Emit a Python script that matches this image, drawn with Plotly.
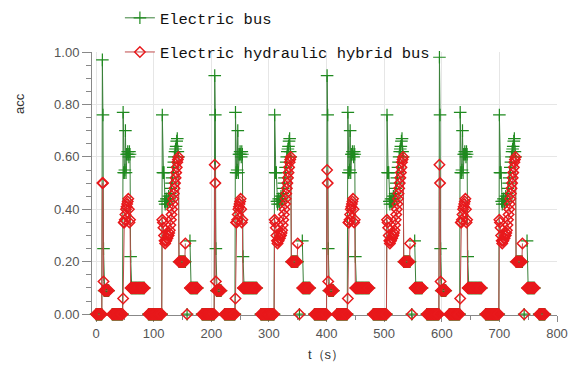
import plotly.graph_objects as go

# ---------------- data ----------------
# The test consists of 4 repetitions of the same 195 s urban cycle.
cycle_starts = [0, 195, 390, 585]
cycle_length = 195

# launch spike at t = 11 s of every cycle (values differ per cycle)
launch_peak_electric = [0.97, 0.91, 0.91, 0.98]
launch_peak_hybrid = [0.50, 0.57, 0.55, 0.57]

# steady (held) segments inside a cycle: start s, end s, value
plateau_start = [0, 14, 28, 62, 91, 145, 164, 184]
plateau_end = [10, 22, 46, 84, 114, 154, 176, 194]
plateau_electric = [0.00, 0.09, 0.00, 0.10, 0.00, 0.20, 0.10, 0.00]
plateau_hybrid = [0.00, 0.09, 0.00, 0.10, 0.00, 0.20, 0.10, 0.00]

# transient samples inside a cycle (time within cycle, s)
transient_t = [12, 13,
               47, 48, 49, 50, 51, 52, 53, 54, 55, 56, 57, 58, 59, 60, 61,
               115, 116, 117, 118, 119, 120, 121, 122, 123, 124, 125, 126, 127, 128, 129,
               130, 131, 132, 133, 134, 135, 136, 137, 138, 139, 140, 141, 142, 143, 144,
               155, 158, 163]
transient_electric = [0.76, 0.25,
                      0.77, 0.54, 0.54, 0.55, 0.70, 0.54, 0.61, 0.61, 0.62, 0.61, 0.60, 0.62, 0.61, 0.22, 0.10,
                      0.76, 0.54, 0.54, 0.54, 0.43, 0.42, 0.43, 0.44, 0.43, 0.42, 0.44, 0.45, 0.43, 0.44, 0.46,
                      0.48, 0.50, 0.52, 0.54, 0.56, 0.58, 0.60, 0.62, 0.63, 0.64, 0.66, 0.67, 0.62, 0.60, 0.20,
                      0.20, 0.00, 0.28]
transient_hybrid = [0.50, 0.125,
                    0.06, 0.35, 0.35, 0.36, 0.38, 0.40, 0.41, 0.42, 0.43, 0.44, 0.40, 0.35, 0.36, 0.10, 0.10,
                    0.36, 0.35, 0.33, 0.30, 0.28, 0.27, 0.28, 0.28, 0.29, 0.29, 0.30, 0.30, 0.31, 0.32, 0.34,
                    0.36, 0.38, 0.40, 0.42, 0.44, 0.46, 0.48, 0.50, 0.52, 0.54, 0.56, 0.58, 0.59, 0.60, 0.20,
                    0.27, 0.00, 0.10]
launch_t = 11

x_ticks = [0, 100, 200, 300, 400, 500, 600, 700, 800]
y_ticks = [0.0, 0.2, 0.4, 0.6, 0.8, 1.0]

# ---------------- assemble the sampled series ----------------
def build(plateau_vals, trans_vals, peaks):
    ts, vs = [], []
    for c, start in enumerate(cycle_starts):
        samples = {}
        for s, e, v in zip(plateau_start, plateau_end, plateau_vals):
            for k in range(s, e + 1):
                samples[k] = v
        for k, v in zip(transient_t, trans_vals):
            samples[k] = v
        samples[launch_t] = peaks[c]
        for k in range(cycle_length):
            ts.append(start + k)
            vs.append(samples.get(k))
    return ts, vs

t_e, y_e = build(plateau_electric, transient_electric, launch_peak_electric)
t_h, y_h = build(plateau_hybrid, transient_hybrid, launch_peak_hybrid)

# ---------------- figure ----------------
fig = go.Figure()
fig.add_trace(go.Scatter(
    x=t_e, y=y_e, name="Electric bus", mode="lines+markers",
    line=dict(color="#3a803a", width=1),
    marker=dict(symbol="cross-thin-open", size=9, color="#1f8a1f", line=dict(width=1.2)),
    connectgaps=False, cliponaxis=False, legendgroup="a"))
fig.add_trace(go.Scatter(
    x=t_h, y=y_h, name="Electric hydraulic hybrid bus", mode="lines+markers",
    line=dict(color="#bf4a4a", width=1),
    marker=dict(symbol="diamond-open", size=8, color="#e8191c", line=dict(width=1.5)),
    connectgaps=False, cliponaxis=False, legendgroup="b"))

axis_font = dict(family="Liberation Sans, Arial, sans-serif", size=13, color="#555")
fig.update_xaxes(
    range=[-7, 800], tickvals=x_ticks, ticktext=[str(v) for v in x_ticks],
    showgrid=True, gridcolor="#e6e6e6", gridwidth=1, zeroline=False,
    showline=True, linecolor="#888", linewidth=1, layer="below traces",
    ticks="outside", ticklen=6, tickcolor="#888", tickfont=axis_font,
    minor=dict(dtick=50, ticks="outside", ticklen=4, tickcolor="#888", showgrid=False))
fig.update_yaxes(
    range=[-0.003, 1.0], tickvals=y_ticks, ticktext=[f"{v:.2f}" for v in y_ticks],
    showgrid=True, gridcolor="#e6e6e6", gridwidth=1, zeroline=False,
    showline=True, linecolor="#888", linewidth=1, layer="below traces",
    ticks="outside", ticklen=9, tickcolor="#888", tickfont=axis_font,
    minor=dict(dtick=0.05, ticks="outside", ticklen=5, tickcolor="#888", showgrid=False))

# the page body adds an 8 px offset, so the figure is 8 px narrower/shorter
fig.update_layout(
    width=573, height=360,
    margin=dict(l=84, r=24, t=44, b=53, autoexpand=False),
    paper_bgcolor="white", plot_bgcolor="white",
    showlegend=True,
    legend=dict(x=0.06, y=1.193, xanchor="left", yanchor="top",
                bgcolor="rgba(0,0,0,0)", borderwidth=0,
                font=dict(family="Liberation Mono, monospace", size=15.5, color="#111"),
                traceorder="grouped", tracegroupgap=11),
    annotations=[
        dict(text="acc", xref="paper", yref="paper", x=-0.157, y=0.806,
             xanchor="center", yanchor="middle",
             textangle=-90, showarrow=False,
             font=dict(family="Liberation Sans, Arial, sans-serif", size=13, color="#333")),
        dict(text="t（s）", xref="paper", yref="paper", x=0.503, y=-0.152,
             xanchor="center", yanchor="middle",
             showarrow=False,
             font=dict(family="Liberation Sans, Arial, sans-serif", size=13, color="#333")),
    ])

fig.write_html("out.html")
